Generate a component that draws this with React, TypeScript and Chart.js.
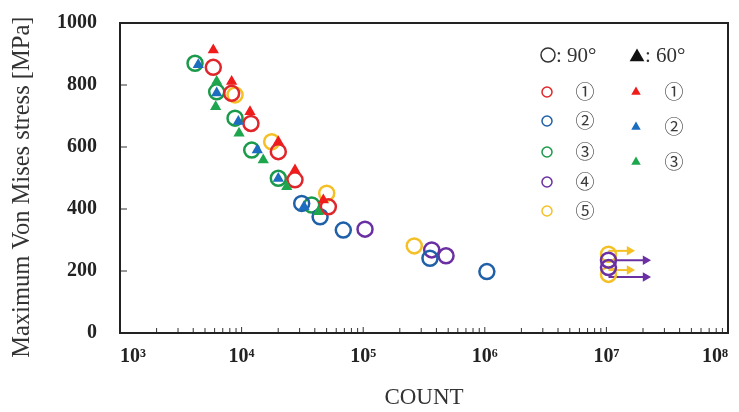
import React, { useEffect, useRef } from 'react';
import { Chart, registerables } from 'chart.js';

Chart.register(...registerables);

// ---- data (cycles to failure N, max von Mises stress MPa) ----
const red90N = [5850, 8280, 11940, 20040, 27480, 51700];
const red90S = [857, 773, 676, 585, 494, 407];
const blue90N = [31200, 44200, 68600, 354000, 1040000];
const blue90S = [418, 375, 332, 241, 198];
const green90N = [4140, 6240, 8830, 12110, 20040, 37700];
const green90S = [870, 778, 693, 590, 499, 413];
const purple90N = [103500, 366000, 480000, 10400000, 10400000];
const purple90S = [335, 268, 249, 235, 211];
const yellow90N = [8830, 17660, 50100, 263000, 10400000, 10400000];
const yellow90S = [768, 617, 451, 281, 254, 189];

const red60N = [5850, 8280, 11720, 20040, 27480, 47000];
const red60S = [913, 811, 714, 617, 526, 429];
const blue60N = [4400, 6240, 9400, 13460, 20040, 32600];
const blue60S = [865, 774, 682, 590, 498, 407];
const green60N = [6240, 6120, 9530, 15070, 23500, 42800];
const green60S = [811, 730, 644, 558, 472, 391];

// run-out arrows (not failed)
const arrowStartN = 10400000;
const arrowYellowEndN = 15500000;
const arrowPurpleEndN = 21000000;
const arrowYellowS = [265, 203];
const arrowPurpleS = [235, 181];

// axes
const xTickValues = [1e3, 1e4, 1e5, 1e6, 1e7, 1e8];
const xTickLabels = ['10³', '10⁴', '10⁵', '10⁶', '10⁷', '10⁸'];
const xMinorMultipliers = [2, 3, 4, 5, 6, 7, 8, 9];
const yTickValues = [0, 200, 400, 600, 800, 1000];
const yTickLabels = ['0', '200', '400', '600', '800', '1000'];

const legendCircleLabels = ['①', '②', '③', '④', '⑤'];
const legendTriangleLabels = ['①', '②', '③'];

const C = {
  red90: '#e0262a',
  blue90: '#1f60a8',
  green90: '#1a9a4a',
  purple90: '#6a2fa2',
  yellow90: '#f5c025',
  red60: '#f01c1c',
  blue60: '#1c6cc0',
  green60: '#1ea64e',
};

const pts = (xs: number[], ys: number[]) => xs.map((x, i) => ({ x, y: ys[i] }));

function circleSet(label: string, xs: number[], ys: number[], color: string) {
  return {
    label,
    data: pts(xs, ys),
    pointStyle: 'circle',
    pointRadius: 7.5,
    pointBorderWidth: 2.5,
    borderColor: color,
    pointBorderColor: color,
    backgroundColor: 'rgba(0,0,0,0)',
    pointBackgroundColor: 'rgba(0,0,0,0)',
    order: 1,
  };
}

function triSet(label: string, xs: number[], ys: number[], color: string) {
  return {
    label,
    data: pts(xs, ys),
    pointStyle: 'triangle',
    pointRadius: 6.5,
    pointBorderWidth: 0,
    borderColor: color,
    pointBorderColor: color,
    backgroundColor: color,
    pointBackgroundColor: color,
    order: 0,
  };
}

function arrowSet(label: string, y: number, endN: number, color: string) {
  return {
    label,
    data: [
      { x: arrowStartN, y },
      { x: endN, y },
    ],
    showLine: true,
    borderColor: color,
    borderWidth: 2,
    pointStyle: 'triangle',
    rotation: 90,
    pointRadius: [0, 5.5],
    pointBorderWidth: 0,
    pointBackgroundColor: color,
    pointBorderColor: color,
    backgroundColor: color,
    order: 2,
  };
}

function drawTri(ctx: CanvasRenderingContext2D, x: number, y: number, r: number, color: string) {
  ctx.beginPath();
  for (let k = 0; k < 3; k++) {
    const ang = -Math.PI / 2 + (k * 2 * Math.PI) / 3;
    const px = x + Math.cos(ang) * r;
    const py = y + Math.sin(ang) * r;
    if (k === 0) ctx.moveTo(px, py);
    else ctx.lineTo(px, py);
  }
  ctx.closePath();
  ctx.fillStyle = color;
  ctx.fill();
}

const decorPlugin = {
  id: 'decor',
  beforeDatasetsDraw(chart: any) {
    const { ctx, chartArea: a, scales } = chart;
    ctx.save();
    ctx.strokeStyle = '#333';
    ctx.lineWidth = 1;
    // inward x ticks (majors + minors)
    for (let d = 0; d < xTickValues.length; d++) {
      const base = xTickValues[d];
      const px = scales.x.getPixelForValue(base);
      ctx.beginPath();
      ctx.moveTo(px, a.bottom);
      ctx.lineTo(px, a.bottom - 6);
      ctx.stroke();
      if (d < xTickValues.length - 1) {
        for (const m of xMinorMultipliers) {
          const p = scales.x.getPixelForValue(base * m);
          ctx.beginPath();
          ctx.moveTo(p, a.bottom);
          ctx.lineTo(p, a.bottom - 5);
          ctx.stroke();
        }
      }
    }
    // inward y ticks
    for (const v of yTickValues) {
      const py = scales.y.getPixelForValue(v);
      ctx.beginPath();
      ctx.moveTo(a.left, py);
      ctx.lineTo(a.left + 7, py);
      ctx.stroke();
    }
    // frame
    ctx.lineWidth = 2;
    ctx.strokeStyle = '#222';
    ctx.strokeRect(a.left, a.top, a.right - a.left, a.bottom - a.top);
    ctx.restore();
  },
  afterDraw(chart: any) {
    const { ctx } = chart;
    ctx.save();
    ctx.textBaseline = 'middle';
    ctx.textAlign = 'left';
    ctx.fillStyle = '#333';
    ctx.font = '21px "Liberation Serif", serif';
    // header: circle = 90°
    ctx.beginPath();
    ctx.arc(548, 55, 7, 0, Math.PI * 2);
    ctx.lineWidth = 1.5;
    ctx.strokeStyle = '#333';
    ctx.stroke();
    ctx.fillStyle = '#333';
    ctx.fillText(': 90°', 556, 56);
    // header: triangle = 60°
    drawTri(ctx, 637, 57, 8.5, '#111');
    ctx.fillStyle = '#333';
    ctx.fillText(': 60°', 645, 56);

    const circleColors = [C.red90, C.blue90, C.green90, C.purple90, C.yellow90];
    const circleRows = [92, 121, 152, 182, 211];
    ctx.font = '19px "Noto Sans CJK JP", sans-serif';
    ctx.textAlign = 'center';
    circleRows.forEach((y, i) => {
      ctx.beginPath();
      ctx.arc(547, y, 5, 0, Math.PI * 2);
      ctx.lineWidth = 1.5;
      ctx.strokeStyle = circleColors[i];
      ctx.stroke();
      ctx.fillStyle = '#3a3a3a';
      ctx.fillText(legendCircleLabels[i], 585, y);
    });
    const triColors = [C.red60, C.blue60, C.green60];
    const triRows = [92, 127, 162];
    triRows.forEach((y, i) => {
      drawTri(ctx, 636, y, 5.5, triColors[i]);
      ctx.fillStyle = '#3a3a3a';
      ctx.fillText(legendTriangleLabels[i], 674, y);
    });
    ctx.restore();
  },
};

export default function App() {
  const ref = useRef<HTMLCanvasElement | null>(null);
  useEffect(() => {
    if (!ref.current) return;
    const chart = new Chart(ref.current, {
      type: 'scatter',
      data: {
        datasets: [
          triSet('60° ①', red60N, red60S, C.red60),
          triSet('60° ②', blue60N, blue60S, C.blue60),
          triSet('60° ③', green60N, green60S, C.green60),
          circleSet('90° ①', red90N, red90S, C.red90),
          circleSet('90° ②', blue90N, blue90S, C.blue90),
          circleSet('90° ③', green90N, green90S, C.green90),
          circleSet('90° ④', purple90N, purple90S, C.purple90),
          circleSet('90° ⑤', yellow90N, yellow90S, C.yellow90),
          arrowSet('arrow y1', arrowYellowS[0], arrowYellowEndN, C.yellow90),
          arrowSet('arrow p1', arrowPurpleS[0], arrowPurpleEndN, C.purple90),
          arrowSet('arrow y2', arrowYellowS[1], arrowYellowEndN, C.yellow90),
          arrowSet('arrow p2', arrowPurpleS[1], arrowPurpleEndN, C.purple90),
        ] as any,
      },
      options: {
        animation: false,
        responsive: false,
        devicePixelRatio: 1,
        layout: { padding: { top: 23, right: 11, left: 0, bottom: 0 } },
        plugins: { legend: { display: false }, tooltip: { enabled: false } },
        scales: {
          x: {
            type: 'logarithmic',
            min: 1e3,
            max: 1e8,
            grid: { display: false, drawTicks: false },
            border: { display: false },
            afterBuildTicks: (scale: any) => {
              scale.ticks = xTickValues.map((v) => ({ value: v }));
            },
            afterFit: (scale: any) => {
              scale.height = 79;
              scale.paddingLeft = 0;
              scale.paddingRight = 0;
            },
            ticks: {
              autoSkip: false,
              maxRotation: 0,
              align: 'inner',
              padding: 12,
              color: '#222',
              font: { family: '"Liberation Serif", serif', size: 20, weight: 'bold' },
              callback: (_v: any, i: number) => xTickLabels[i],
            },
            title: {
              display: true,
              text: 'COUNT',
              color: '#333',
              padding: { top: 0, bottom: 0 },
              font: { family: '"Liberation Serif", serif', size: 23 },
            },
          },
          y: {
            type: 'linear',
            min: 0,
            max: 1000,
            grid: { display: false, drawTicks: false },
            border: { display: false },
            afterFit: (scale: any) => {
              scale.width = 120;
              scale.paddingTop = 0;
              scale.paddingBottom = 0;
            },
            afterBuildTicks: (scale: any) => {
              scale.ticks = yTickValues.map((v) => ({ value: v }));
            },
            ticks: {
              padding: 23,
              color: '#222',
              font: { family: '"Liberation Serif", serif', size: 20, weight: 'bold' },
              callback: (_v: any, i: number) => yTickLabels[i],
            },
            title: {
              display: true,
              text: 'Maximum Von Mises stress [MPa]   ',
              color: '#333',
              padding: { top: 8, bottom: 0 },
              font: { family: '"Liberation Serif", serif', size: 24.5 },
            },
          },
        },
      },
      plugins: [decorPlugin],
    } as any);
    return () => chart.destroy();
  }, []);
  return (
    <div style={{ position: 'absolute', left: 0, top: 0, width: 739, height: 412, background: '#fff' }}>
      <canvas ref={ref} width={739} height={412} />
    </div>
  );
}
